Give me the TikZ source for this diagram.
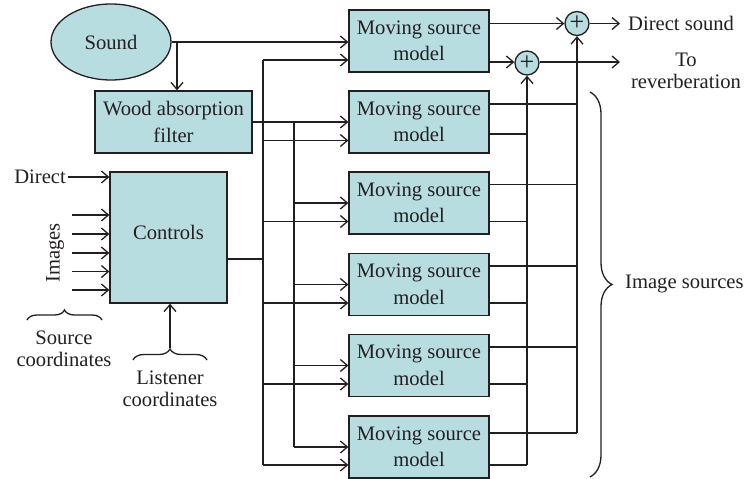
\documentclass[tikz,border=0pt]{standalone}
\usepackage{fontspec}
\setmainfont{Liberation Serif}
\usetikzlibrary{arrows.meta,shapes.geometric,decorations.pathreplacing}
\definecolor{boxfill}{HTML}{B8DDE1}
\definecolor{ink}{HTML}{231F20}
\begin{document}
\begin{tikzpicture}[x=1pt,y=-1pt,
  every node/.style={font=\rmfamily\fontsize{20.6}{22}\selectfont, text=ink},
  blk/.style={draw=ink, line width=1.3pt, fill=boxfill, align=center, inner sep=0pt,
    font=\rmfamily\fontsize{20.6}{26.5}\selectfont},
  msm/.style={blk, minimum width=140pt, minimum height=62pt},
  arr/.style={draw=ink, -{Straight Barb[length=7pt,width=12pt]}, line width=1.3pt},
  ln/.style={draw=ink, line width=1.3pt},
  br/.style={draw=ink, line width=1.3pt, decorate},
  sumnode/.style={circle, draw=ink, fill=boxfill, minimum size=24pt, inner sep=0pt,
    line width=1.3pt, font=\rmfamily\fontsize{26}{26}\selectfont},
  lbl/.style={align=center, inner sep=2pt}
]
\useasboundingbox (0,0) rectangle (745,479);

% blocks
\node[blk, ellipse, minimum width=120pt, minimum height=76pt] (sound) at (111,42) {Sound};
\node[blk, minimum width=157pt, minimum height=62pt] (wood) at (173.5,122) {Wood absorption\\filter};
\node[blk, minimum width=117pt, minimum height=131pt,
      label={[yshift=5pt, font=\rmfamily\fontsize{20.6}{22}\selectfont, text=ink]center:Controls}] (controls) at (168.5,237.5) {};
\node[msm] (msm1) at (419,41)  {Moving source\\model};
\node[msm] (msm2) at (419,122) {Moving source\\model};
\node[msm] (msm3) at (419,203) {Moving source\\model};
\node[msm] (msm4) at (419,284.5) {Moving source\\model};
\node[msm] (msm5) at (419,365.5) {Moving source\\model};
\node[msm] (msm6) at (419,447) {Moving source\\model};
\node[sumnode] (sum1) at (577,23.5) {\raisebox{-1.5pt}{+}};
\node[sumnode] (sum2) at (527,63) {\raisebox{-1.5pt}{+}};

% labels
\node[anchor=west, inner xsep=8pt] (dsound) at (620,23.5) {Direct sound};
\coordinate (revin) at (620,62);
\node[lbl] (rev) at (686,71) {To\\reverberation};
\node[anchor=west, inner xsep=2pt] (imgsrc) at (623,284) {Image sources};
\node[anchor=east, inner sep=2pt] (direct) at (68,177) {Direct};
\node[rotate=90] (images) at (55,253) {Images};
\node[lbl] (srccoord) at (64,349) {Source\\coordinates};
\node[lbl] (lstcoord) at (170,389) {Listener\\coordinates};

% sound paths
\draw[arr] (sound.east) -- (msm1.west |- sound.east);
\coordinate (sb) at (177,42);
\draw[arr] (sb) -- (sb |- wood.north);

% wood filter bus (B)
\coordinate (bT) at (294,122);
\coordinate (bB) at (294,447);
\draw[arr] (wood.east) -- (msm2.west |- wood.east);
\draw[ln] (bT) -- (bB);
\foreach \i/\c in {3/203,4/284.5,5/365.5,6/447}
  \draw[arr] (294,\c) -- (msm\i.west |- 0,\c);

% controls bus (A)
\coordinate (aT) at (263,60);
\coordinate (aB) at (263,465);
\draw[ln] (controls.east |- 0,259) -- (263,259);
\draw[ln] (aT) -- (aB);
\draw[arr] (aT) -- (msm1.west |- aT);
\foreach \i/\c in {2/140.5,3/221.5,4/303,5/384,6/465}
  \draw[arr] (263,\c) -- (msm\i.west |- 0,\c);

% outputs
\draw[arr] (msm1.east |- sum1.west) -- (sum1.west);
\draw[arr] (msm1.east |- 0,62) -- (sum2.west |- 0,62);
\draw[arr] (sum1.east) -- (dsound.west);
\draw[arr] (sum2.east |- revin) -- (revin);
\coordinate (cB) at (577,433);
\coordinate (dB) at (527,465);
\draw[arr] (cB) -- (sum1.south);
\draw[arr] (dB) -- (sum2.south);
\foreach \i/\ta/\tb in {2/104/134,3/184.5/221.5,4/266/303,5/347/384,6/433/465} {
  \draw[ln] (msm\i.east |- 0,\ta) -- (577,\ta);
  \draw[ln] (msm\i.east |- 0,\tb) -- (527,\tb);
}

% controls inputs
\draw[arr] (direct.east) -- (controls.west |- direct.east);
\foreach \y in {215,234,253,271.5,290}
  \draw[arr] (72,\y) -- (controls.west |- 0,\y);

% braces
\draw[br, decoration={brace, amplitude=22pt}] (590,92) -- (590,477);
\draw[br, decoration={brace, amplitude=10pt}] (27,320) -- (102,320);
\draw[br, decoration={brace, amplitude=11pt}] (133,360) -- (207,360);
\coordinate (lb) at (170,348);
\draw[arr] (lb) -- (lb |- controls.south);
\end{tikzpicture}
\end{document}
